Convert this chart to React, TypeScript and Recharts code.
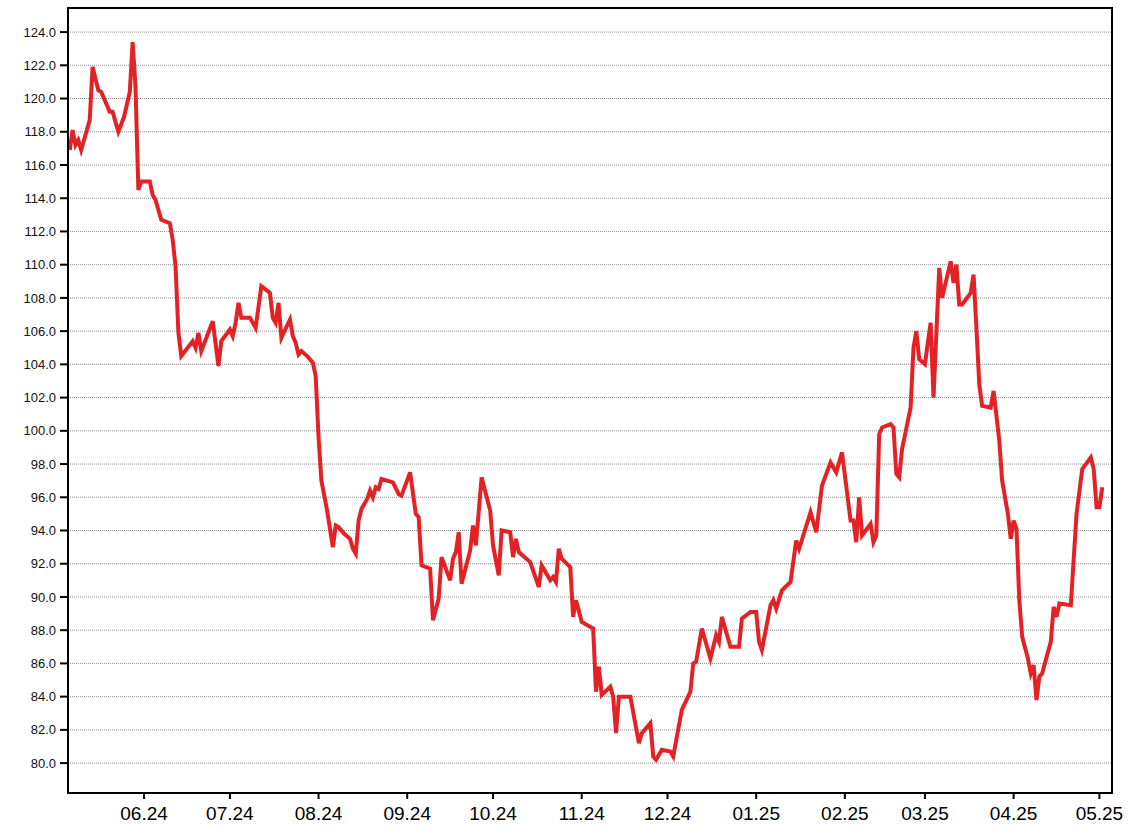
import { LineChart, Line, XAxis, YAxis, CartesianGrid, ReferenceArea } from 'recharts';

// days counted from 2024-05-05 (UTC)
const START = Date.UTC(2024, 4, 5);
const DAY_MS = 86400000;

const DAYS = [
  1, 2, 3, 4, 5, 8, 9, 11, 12, 15, 16, 18, 20, 22, 23, 24, 25, 26, 29, 30,
  31, 33, 36, 37, 38, 39, 40, 44, 45, 46, 47, 51, 53, 54, 57, 58, 59, 60, 61, 64,
  66, 68, 71, 72, 73, 74, 75, 78, 79, 80, 81, 82, 84, 86, 87, 88, 89, 91, 93, 94,
  95, 97, 99, 100, 101, 102, 103, 105, 106, 107, 108, 109, 110, 114, 116, 117, 120, 122, 123, 124,
  127, 128, 130, 131, 134, 135, 136, 137, 138, 141, 142, 143, 145, 148, 149, 151, 152, 155, 156, 157,
  158, 162, 165, 166, 169, 170, 171, 172, 173, 176, 177, 178, 180, 184, 185, 186, 187, 190, 191, 192,
  193, 197, 200, 201, 204, 205, 206, 208, 211, 212, 215, 218, 219, 220, 222, 225, 227, 228, 229, 232,
  235, 236, 239, 241, 242, 243, 246, 247, 248, 250, 253, 255, 256, 260, 262, 264, 267, 269, 271, 274,
  275, 276, 277, 278, 281, 282, 283, 284, 285, 288, 289, 290, 291, 292, 295, 296, 297, 298, 300, 301,
  302, 303, 305, 306, 309, 310, 311, 312, 313, 316, 317, 318, 319, 320, 323, 324, 326, 327, 329, 330,
  331, 332, 333, 334, 336, 337, 338, 339, 340, 341, 344, 345, 346, 347, 351, 353, 355, 358, 359, 360,
  361, 362,
];

const PRICES = [
  116.9, 118.1, 117.2, 117.5, 116.9, 118.7, 121.9, 120.5, 120.4, 119.2, 119.2, 118.0, 118.9, 120.4, 123.4, 120.7, 114.5, 115.0, 115.0, 114.2,
  113.9, 112.7, 112.5, 111.5, 109.9, 105.9, 104.5, 105.4, 105.0, 105.9, 104.8, 106.6, 103.9, 105.4, 106.1, 105.7, 106.5, 107.7, 106.8, 106.8,
  106.2, 108.7, 108.3, 106.8, 106.5, 107.7, 105.6, 106.7, 105.7, 105.3, 104.6, 104.8, 104.5, 104.1, 103.3, 99.6, 97.0, 95.2, 93.0, 94.3,
  94.2, 93.8, 93.5, 92.9, 92.6, 94.6, 95.3, 95.9, 96.4, 96.0, 96.6, 96.5, 97.1, 96.9, 96.2, 96.1, 97.5, 95.0, 94.8, 91.9,
  91.7, 88.6, 89.9, 92.4, 91.0, 92.3, 92.7, 93.9, 90.8, 92.8, 94.3, 93.1, 97.2, 95.2, 93.1, 91.3, 94.0, 93.9, 92.4, 93.5,
  92.7, 92.1, 90.6, 91.9, 91.0, 91.2, 90.9, 92.9, 92.3, 91.8, 88.8, 89.8, 88.5, 88.1, 84.3, 85.8, 84.1, 84.6, 84.0, 81.8,
  84.0, 84.0, 81.2, 81.8, 82.4, 80.4, 80.2, 80.8, 80.7, 80.4, 83.2, 84.3, 86.0, 86.1, 88.1, 86.3, 87.7, 87.3, 88.8, 87.0,
  87.0, 88.7, 89.1, 89.1, 87.3, 86.8, 89.5, 89.8, 89.3, 90.4, 90.9, 93.4, 92.9, 95.1, 93.9, 96.7, 98.1, 97.5, 98.7, 94.6,
  94.6, 93.3, 96.0, 93.7, 94.4, 93.3, 93.7, 99.8, 100.2, 100.4, 100.2, 97.4, 97.2, 98.9, 101.4, 105.0, 106.0, 104.3, 104.0, 105.3,
  106.5, 102.0, 109.8, 108.0, 110.2, 108.9, 110.0, 107.6, 107.6, 108.3, 109.4, 106.2, 102.8, 101.5, 101.4, 102.4, 99.4, 97.0, 95.0, 93.5,
  94.6, 94.1, 89.8, 87.6, 86.3, 85.4, 85.9, 83.8, 85.2, 85.4, 87.3, 89.4, 88.8, 89.6, 89.5, 95.0, 97.7, 98.4, 97.7, 95.4,
  95.4, 96.6,
];

const MONTH_LABELS = ['06.24', '07.24', '08.24', '09.24', '10.24', '11.24', '12.24', '01.25', '02.25', '03.25', '04.25', '05.25'];

const Y_TICKS = [80, 82, 84, 86, 88, 90, 92, 94, 96, 98, 100, 102, 104, 106, 108, 110, 112, 114, 116, 118, 120, 122, 124];

const X_DOMAIN: [number, number] = [0.4, 365.4];
const Y_DOMAIN: [number, number] = [78.2, 125.45];

const monthDay = (label: string) => {
  const m = parseInt(label.slice(0, 2), 10) - 1;
  const y = 2000 + parseInt(label.slice(3), 10);
  return (Date.UTC(y, m, 1) - START) / DAY_MS;
};

const X_TICKS = MONTH_LABELS.map(monthDay);

const data = DAYS.map((d, i) => ({ day: d, price: PRICES[i] }));

const FONT = 'Liberation Sans, Arial, sans-serif';

export default function App() {
  return (
    <div style={{ position: 'absolute', left: 0, top: 0, background: '#fff' }}>
      <LineChart
        width={1128}
        height={836}
        data={data}
        margin={{ top: 8, right: 16, left: 0, bottom: 0 }}
      >
        <CartesianGrid vertical={false} stroke="#8c8c8c" strokeDasharray="1 1" />
        <XAxis
          type="number"
          dataKey="day"
          domain={X_DOMAIN}
          allowDataOverflow
          ticks={X_TICKS}
          interval={0}
          tickFormatter={(v: number) => MONTH_LABELS[X_TICKS.indexOf(v)] ?? ''}
          height={43}
          tickSize={6}
          tickMargin={8}
          axisLine={{ stroke: '#000', strokeWidth: 2 }}
          tickLine={{ stroke: '#000', strokeWidth: 2 }}
          tick={{ fill: '#000', fontSize: 19, fontFamily: FONT }}
        />
        <YAxis
          type="number"
          domain={Y_DOMAIN}
          allowDataOverflow
          ticks={Y_TICKS}
          interval={0}
          tickFormatter={(v: number) => v.toFixed(1)}
          width={68}
          tickSize={8}
          tickMargin={4}
          axisLine={{ stroke: '#000', strokeWidth: 2 }}
          tickLine={{ stroke: '#000', strokeWidth: 2 }}
          tick={{ fill: '#111', fontSize: 13, fontFamily: FONT }}
        />
        <ReferenceArea
          x1={X_DOMAIN[0]}
          x2={X_DOMAIN[1]}
          y1={Y_DOMAIN[0]}
          y2={Y_DOMAIN[1]}
          fill="none"
          stroke="#000"
          strokeWidth={2}
        />
        <Line
          type="linear"
          dataKey="price"
          stroke="#e42226"
          strokeWidth={4}
          dot={false}
          activeDot={false}
          isAnimationActive={false}
        />
      </LineChart>
    </div>
  );
}
